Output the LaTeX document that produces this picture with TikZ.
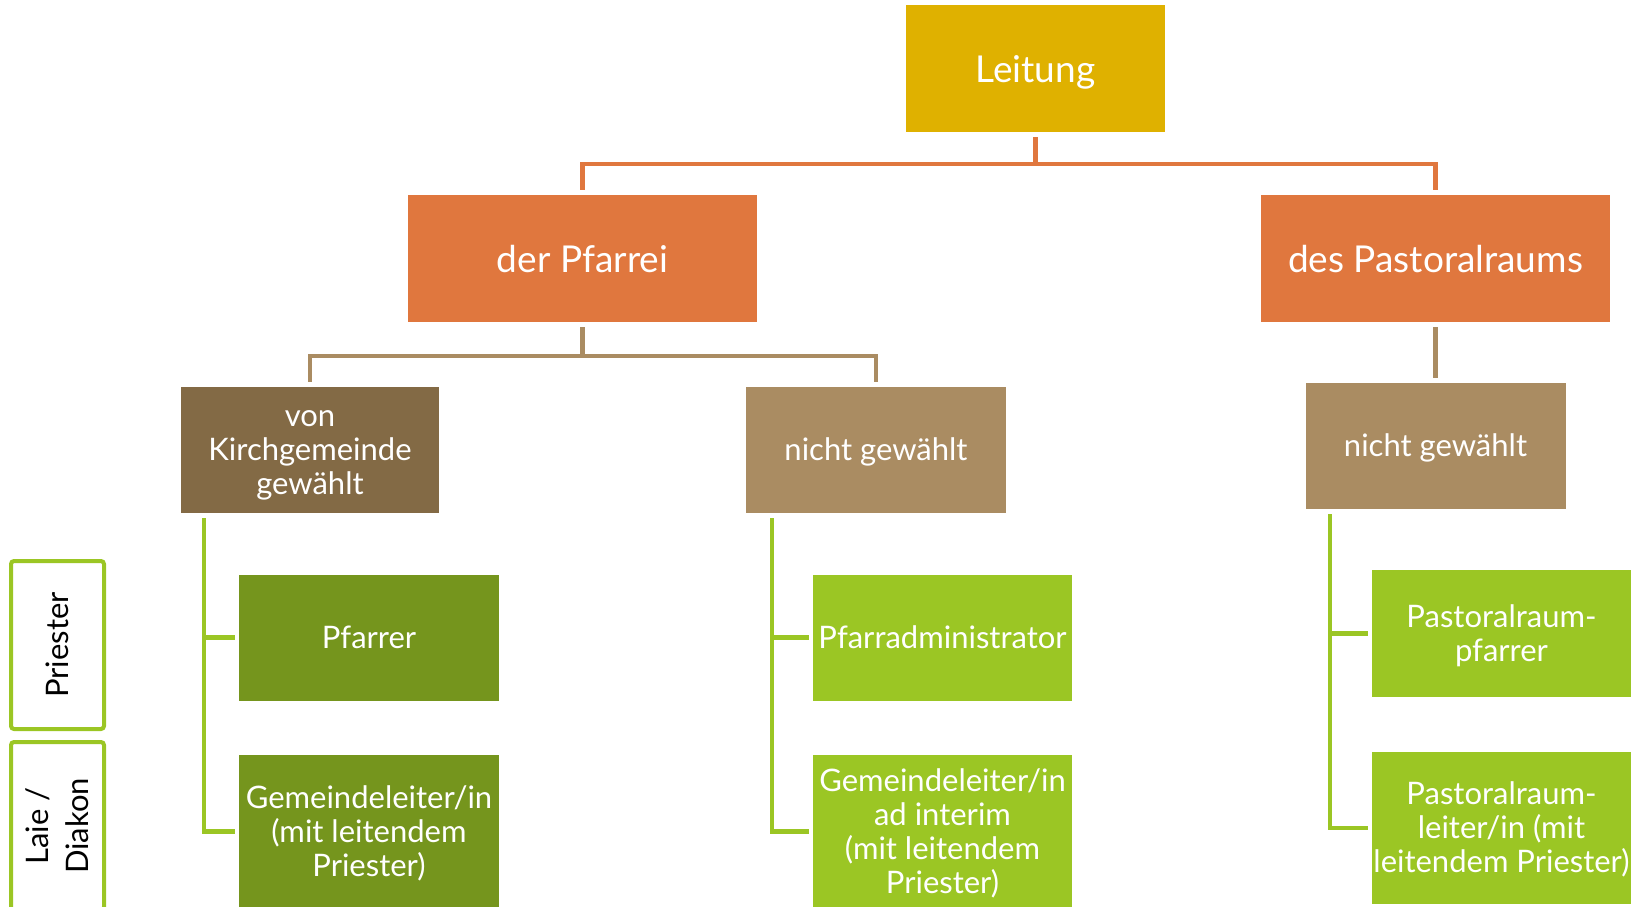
\documentclass[tikz,border=0pt]{standalone}
\usepackage{fontspec}
\setmainfont{Lato}
\definecolor{gold}{RGB}{223,177,0}
\definecolor{rust}{RGB}{224,119,62}
\definecolor{darkbrown}{RGB}{131,106,69}
\definecolor{lightbrown}{RGB}{170,140,98}
\definecolor{olive}{RGB}{117,149,29}
\definecolor{lime}{RGB}{155,198,36}
% struts that give every first line the same ascent and every last line the same descent
\newcommand{\upstrut}{\rule{0pt}{27pt}}
\newcommand{\bigupstrut}{\rule{0pt}{35pt}}
\newcommand{\lowstrut}{\vphantom{g}}
\tikzset{
  box/.style={rectangle, inner sep=0pt, text=white, align=center,
    minimum width=260pt, minimum height=126pt,
    font=\fontsize{31}{34}\selectfont},
  bigbox/.style={rectangle, inner sep=0pt, text=white, align=center,
    minimum width=349pt, minimum height=127pt,
    font=\fontsize{37}{40}\selectfont},
  tagbox/.style={rectangle, draw=lime, line width=4pt, rounded corners=3pt,
    fill=white, text=black, align=center, inner sep=0pt,
    minimum width=168pt, minimum height=93pt, rotate=90,
    font=\fontsize{31}{40}\selectfont},
  link/.style={line width=4.5pt},
}
\begin{document}
\begin{tikzpicture}[x=1pt, y=-1pt]
\useasboundingbox (0,0) rectangle (1639,906);

% top level
\node[bigbox, fill=gold, minimum width=259pt] (lei) at (1035.5,68.5) {\bigupstrut Leitung\lowstrut};
\node[bigbox, fill=rust] (pfa) at (582.5,258.5) {\bigupstrut der Pfarrei\lowstrut};
\node[bigbox, fill=rust] (pra) at (1435.5,258.5) {\bigupstrut des Pastoralraums\lowstrut};

% election level
\node[box, fill=darkbrown, minimum width=258pt] (vkg) at (310,450) {\upstrut von\\Kirchgemeinde\\gewählt\lowstrut};
\node[box, fill=lightbrown] (nga) at (876,450) {\upstrut nicht gewählt\lowstrut};
\node[box, fill=lightbrown] (ngb) at (1435.5,446) {\upstrut nicht gewählt\lowstrut};

% offices
\node[box, fill=olive] (pfr) at (369,637.5) {\upstrut Pfarrer\lowstrut};
\node[box, fill=olive, minimum height=153pt] (gma) at (369,831.5) {\upstrut Gemeindeleiter/in\\(mit leitendem\\Priester)\lowstrut};
\node[box, fill=lime, minimum width=259pt] (adm) at (942.5,637.5) {\upstrut Pfarradministrator\lowstrut};
\node[box, fill=lime, minimum width=259pt, minimum height=153pt] (gmb) at (942.5,831.5) {\upstrut Gemeindeleiter/in\\ad interim\\(mit leitendem\\Priester)\lowstrut};
\node[box, fill=lime, minimum width=259pt, minimum height=127pt] (prp) at (1501.5,633.5) {\upstrut Pastoralraum-\\pfarrer\lowstrut};
\node[box, fill=lime, minimum width=259pt, minimum height=152pt] (prl) at (1501.5,828) {\upstrut Pastoralraum-\\leiter/in (mit\\leitendem Priester)\lowstrut};

% row labels
\node[tagbox] (tp) at (57.5,645) {Priester};
\node[tagbox] (tl) at (57.5,826) {Laie /\\Diakon};

% connectors: top level
\coordinate (bar1) at (1035.5,164);
\draw[link, rust] ([yshift=-5pt]lei.south) -- (bar1);
\draw[link, rust] ([yshift=5pt]pfa.north) |- (bar1) -| ([yshift=5pt]pra.north);

% connectors: election level
\coordinate (bar2) at (582.5,356);
\draw[link, lightbrown] ([yshift=-5pt]pfa.south) -- (bar2);
\draw[link, lightbrown] ([yshift=5pt]vkg.north) |- (bar2) -| ([yshift=5pt]nga.north);
\draw[link, lightbrown] ([yshift=-5pt]pra.south) -- ([yshift=5pt]ngb.north);

% connectors: offices
\coordinate (ta) at (204,518);
\coordinate (tb) at (772,518);
\coordinate (tc) at (1330,514);
\draw[link, lime] (ta) |- ([xshift=-4pt]pfr.west);
\draw[link, lime] (ta) |- ([xshift=-4pt]gma.west);
\draw[link, lime] (tb) |- ([xshift=-4pt]adm.west);
\draw[link, lime] (tb) |- ([xshift=-4pt]gmb.west);
\draw[link, lime] (tc) |- ([xshift=-4pt]prp.west);
\draw[link, lime] (tc) |- ([xshift=-4pt]prl.west);
\end{tikzpicture}
\end{document}
